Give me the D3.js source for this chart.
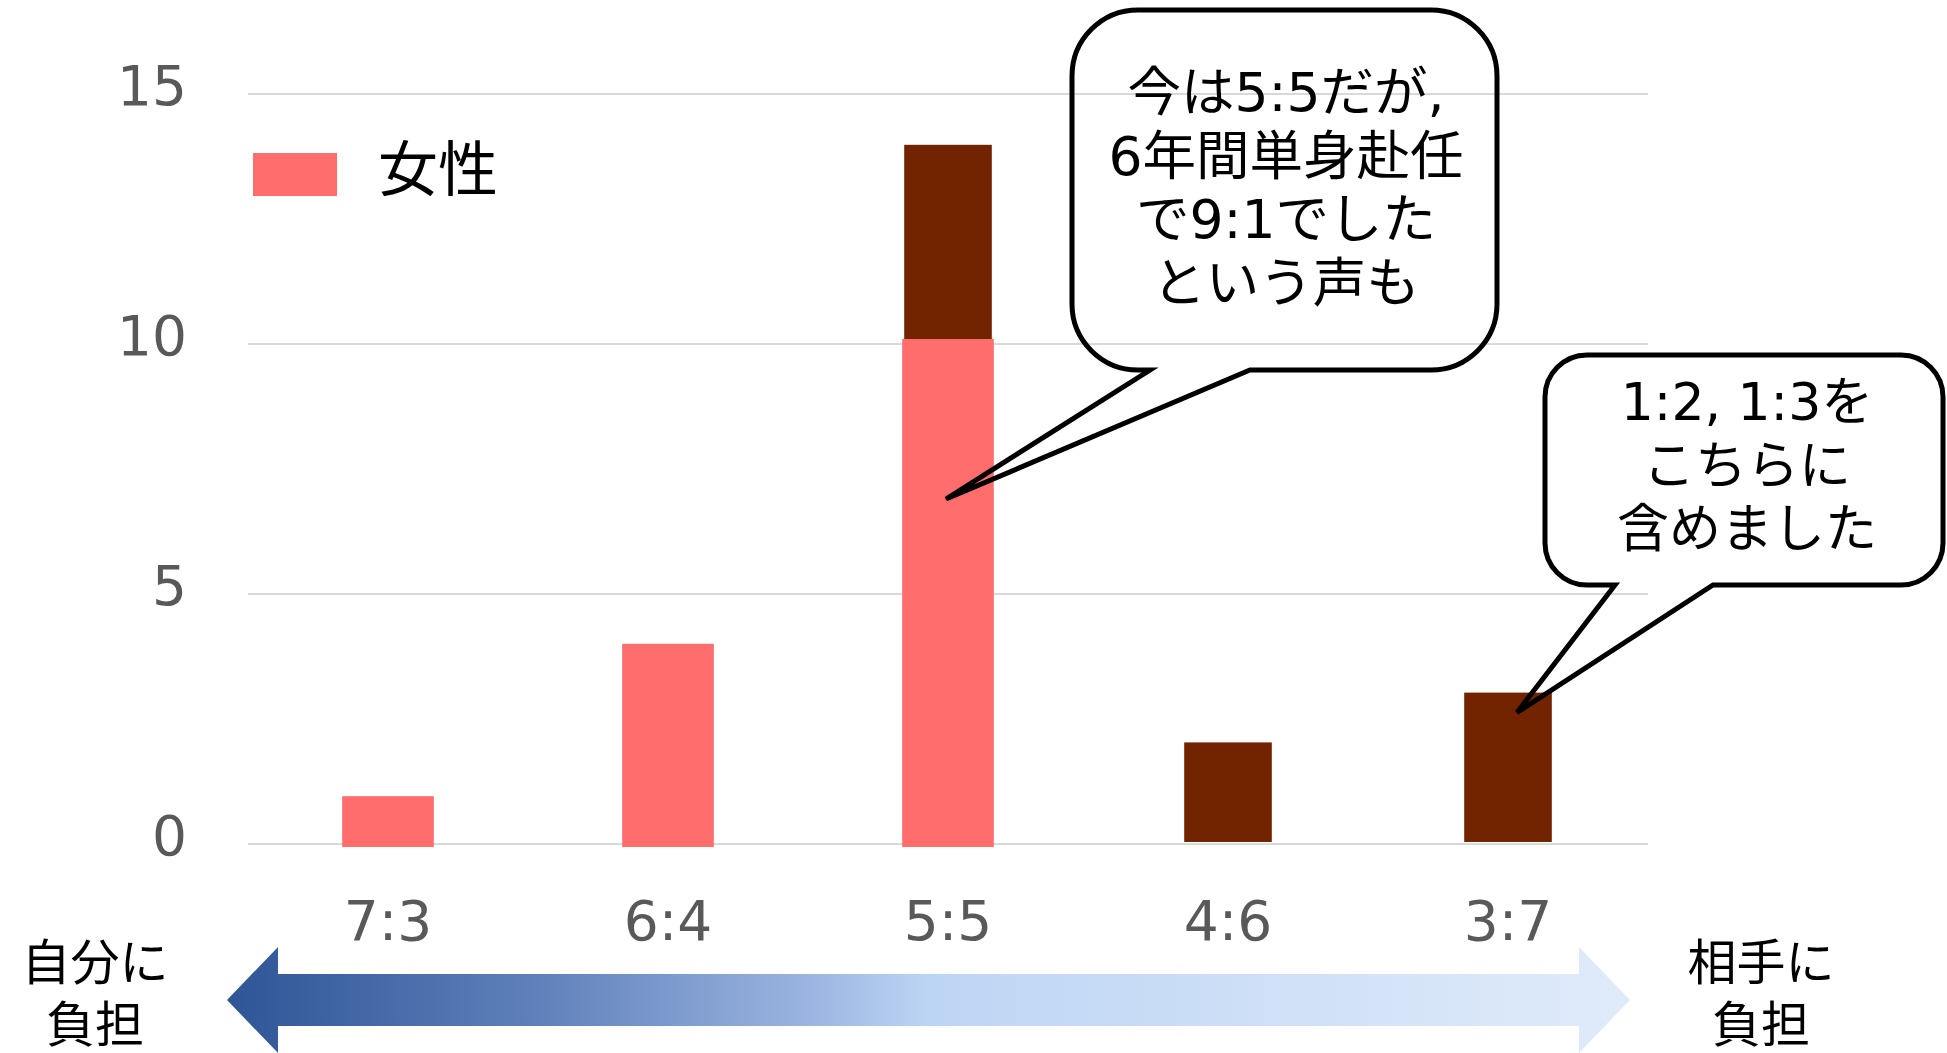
<!DOCTYPE html>
<html>
<head>
<meta charset="utf-8">
<script src="https://cdn.jsdelivr.net/npm/d3@7"></script>
<style>
  html, body { margin: 0; padding: 0; background: #ffffff; }
  svg { display: block; }
</style>
</head>
<body>
<script>
// ---- data ----
const categories = ["7:3", "6:4", "5:5", "4:6", "3:7"];
const femaleValues = [1, 4, 10, 0, 0];
const otherValues = [0, 0, 14, 2, 3];
const yTicks = [0, 5, 10, 15];
const legendLabel = "女性";
const bubble1Lines = ["今は5:5だが,", "6年間単身赴任", "で9:1でした", "という声も"];
const bubble2Lines = ["1:2, 1:3を", "こちらに", "含めました"];
const leftLabel = ["自分に", "負担"];
const rightLabel = ["相手に", "負担"];

// ---- layout ----
const W = 1947, H = 1053;
const latin = "'DejaVu Sans', 'Noto Sans CJK JP', sans-serif";
const cjk = "'Noto Sans CJK JP', sans-serif";
const colFemale = "#FF6D6D";
const colOther = "#722400";

const svg = d3.select("body").append("svg")
  .attr("width", W).attr("height", H);

const x = d3.scaleBand().domain(categories).range([248, 1648])
  .paddingInner(0.68).paddingOuter(0.34);
const y = d3.scaleLinear().domain([0, 15]).range([844, 94]);
const yFemale = d3.scaleLinear().domain([0, 15]).range([847, 85]);
const yOther = d3.scaleLinear().domain([0, 15]).range([842, 95]);

// gradient for arrow
const defs = svg.append("defs");
const grad = defs.append("linearGradient").attr("id", "arrowGrad")
  .attr("x1", "0%").attr("x2", "100%").attr("y1", "0%").attr("y2", "0%");
[[0, "#2E5597"], [0.22, "#5F80BA"], [0.42, "#9DB6E2"], [0.5, "#BDD5F4"], [0.75, "#CFE0F7"], [1, "#E0EBFA"]]
  .forEach(([o, c]) => grad.append("stop").attr("offset", o).attr("stop-color", c));

// gridlines
svg.append("g").selectAll("line").data(yTicks).join("line")
  .attr("x1", 248).attr("x2", 1648)
  .attr("y1", d => y(d)).attr("y2", d => y(d))
  .attr("stroke", "#D9D9D9").attr("stroke-width", 2);

// y labels
svg.append("g").selectAll("text").data(yTicks).join("text")
  .attr("x", 187).attr("y", d => y(d) + 11)
  .attr("text-anchor", "end")
  .attr("font-family", latin).attr("font-size", 55).attr("fill", "#595959")
  .text(d => d);

// other series bars (behind)
svg.append("g").selectAll("rect")
  .data(categories.map((c, i) => ({c, v: otherValues[i]})).filter(d => d.v > 0))
  .join("rect")
  .attr("x", d => x(d.c) + 1).attr("width", x.bandwidth() - 2)
  .attr("y", d => yOther(d.v)).attr("height", d => yOther(0) - yOther(d.v))
  .attr("fill", colOther);

// female bars
svg.append("g").selectAll("rect")
  .data(categories.map((c, i) => ({c, v: femaleValues[i]})).filter(d => d.v > 0))
  .join("rect")
  .attr("x", d => x(d.c) - 1).attr("width", x.bandwidth() + 2)
  .attr("y", d => yFemale(d.v)).attr("height", d => yFemale(0) - yFemale(d.v))
  .attr("fill", colFemale);

// x labels
svg.append("g").selectAll("text").data(categories).join("text")
  .attr("x", d => x(d) + x.bandwidth() / 2).attr("y", 940)
  .attr("text-anchor", "middle")
  .attr("font-family", latin).attr("font-size", 55).attr("fill", "#595959")
  .text(d => d);

// legend
svg.append("rect").attr("x", 253).attr("y", 153).attr("width", 84).attr("height", 43)
  .attr("fill", colFemale);
svg.append("text").attr("x", 378).attr("y", 191)
  .attr("font-family", cjk).attr("font-size", 60).attr("fill", "#000")
  .text(legendLabel);

// bubble helper
function bubblePath(x0, y0, x1, y1, r, tailL, tailR, tip) {
  const p = d3.path();
  p.moveTo(x0 + r, y0);
  p.lineTo(x1 - r, y0);
  p.arcTo(x1, y0, x1, y0 + r, r);
  p.lineTo(x1, y1 - r);
  p.arcTo(x1, y1, x1 - r, y1, r);
  p.lineTo(tailR, y1);
  p.lineTo(tip[0], tip[1]);
  p.lineTo(tailL, y1);
  p.lineTo(x0 + r, y1);
  p.arcTo(x0, y1, x0, y1 - r, r);
  p.lineTo(x0, y0 + r);
  p.arcTo(x0, y0, x0 + r, y0, r);
  p.closePath();
  return p.toString();
}

// bubble 1
const tip1 = [x("5:5") + x.bandwidth() / 2 - 2, yFemale(6.85)];
svg.append("path")
  .attr("d", bubblePath(1072, 10, 1497, 370, 66, 1150, 1250, tip1))
  .attr("fill", "none").attr("stroke", "#000").attr("stroke-width", 5)
  .attr("stroke-linejoin", "miter");
svg.append("g").selectAll("text").data(bubble1Lines).join("text")
  .attr("x", 1286).attr("y", (d, i) => 111 + i * 63.7)
  .attr("text-anchor", "middle")
  .attr("font-family", latin).attr("font-size", 53.5).attr("fill", "#000")
  .text(d => d);

// bubble 2
const tip2 = [x("3:7") + x.bandwidth() / 2 + 9, yOther(2.6)];
svg.append("path")
  .attr("d", bubblePath(1545, 355, 1943, 585, 42, 1615, 1713, tip2))
  .attr("fill", "none").attr("stroke", "#000").attr("stroke-width", 5)
  .attr("stroke-linejoin", "miter");
svg.append("g").selectAll("text").data(bubble2Lines).join("text")
  .attr("x", 1747).attr("y", (d, i) => 420 + i * 63.5)
  .attr("text-anchor", "middle")
  .attr("font-family", latin).attr("font-size", 52).attr("fill", "#000")
  .text(d => d);

// arrow
const ar = d3.path();
ar.moveTo(227, 1000); ar.lineTo(278, 947); ar.lineTo(278, 974); ar.lineTo(1579, 974);
ar.lineTo(1579, 947); ar.lineTo(1630, 1000); ar.lineTo(1579, 1053); ar.lineTo(1579, 1026);
ar.lineTo(278, 1026); ar.lineTo(278, 1053); ar.closePath();
svg.append("path").attr("d", ar.toString()).attr("fill", "url(#arrowGrad)");

// side labels
function sideLabel(lines, cx) {
  svg.append("g").selectAll("text").data(lines).join("text")
    .attr("x", cx).attr("y", (d, i) => 980 + i * 62)
    .attr("text-anchor", "middle")
    .attr("font-family", cjk).attr("font-size", 49).attr("fill", "#000")
    .text(d => d);
}
sideLabel(leftLabel, 95);
sideLabel(rightLabel, 1761);
</script>
</body>
</html>
